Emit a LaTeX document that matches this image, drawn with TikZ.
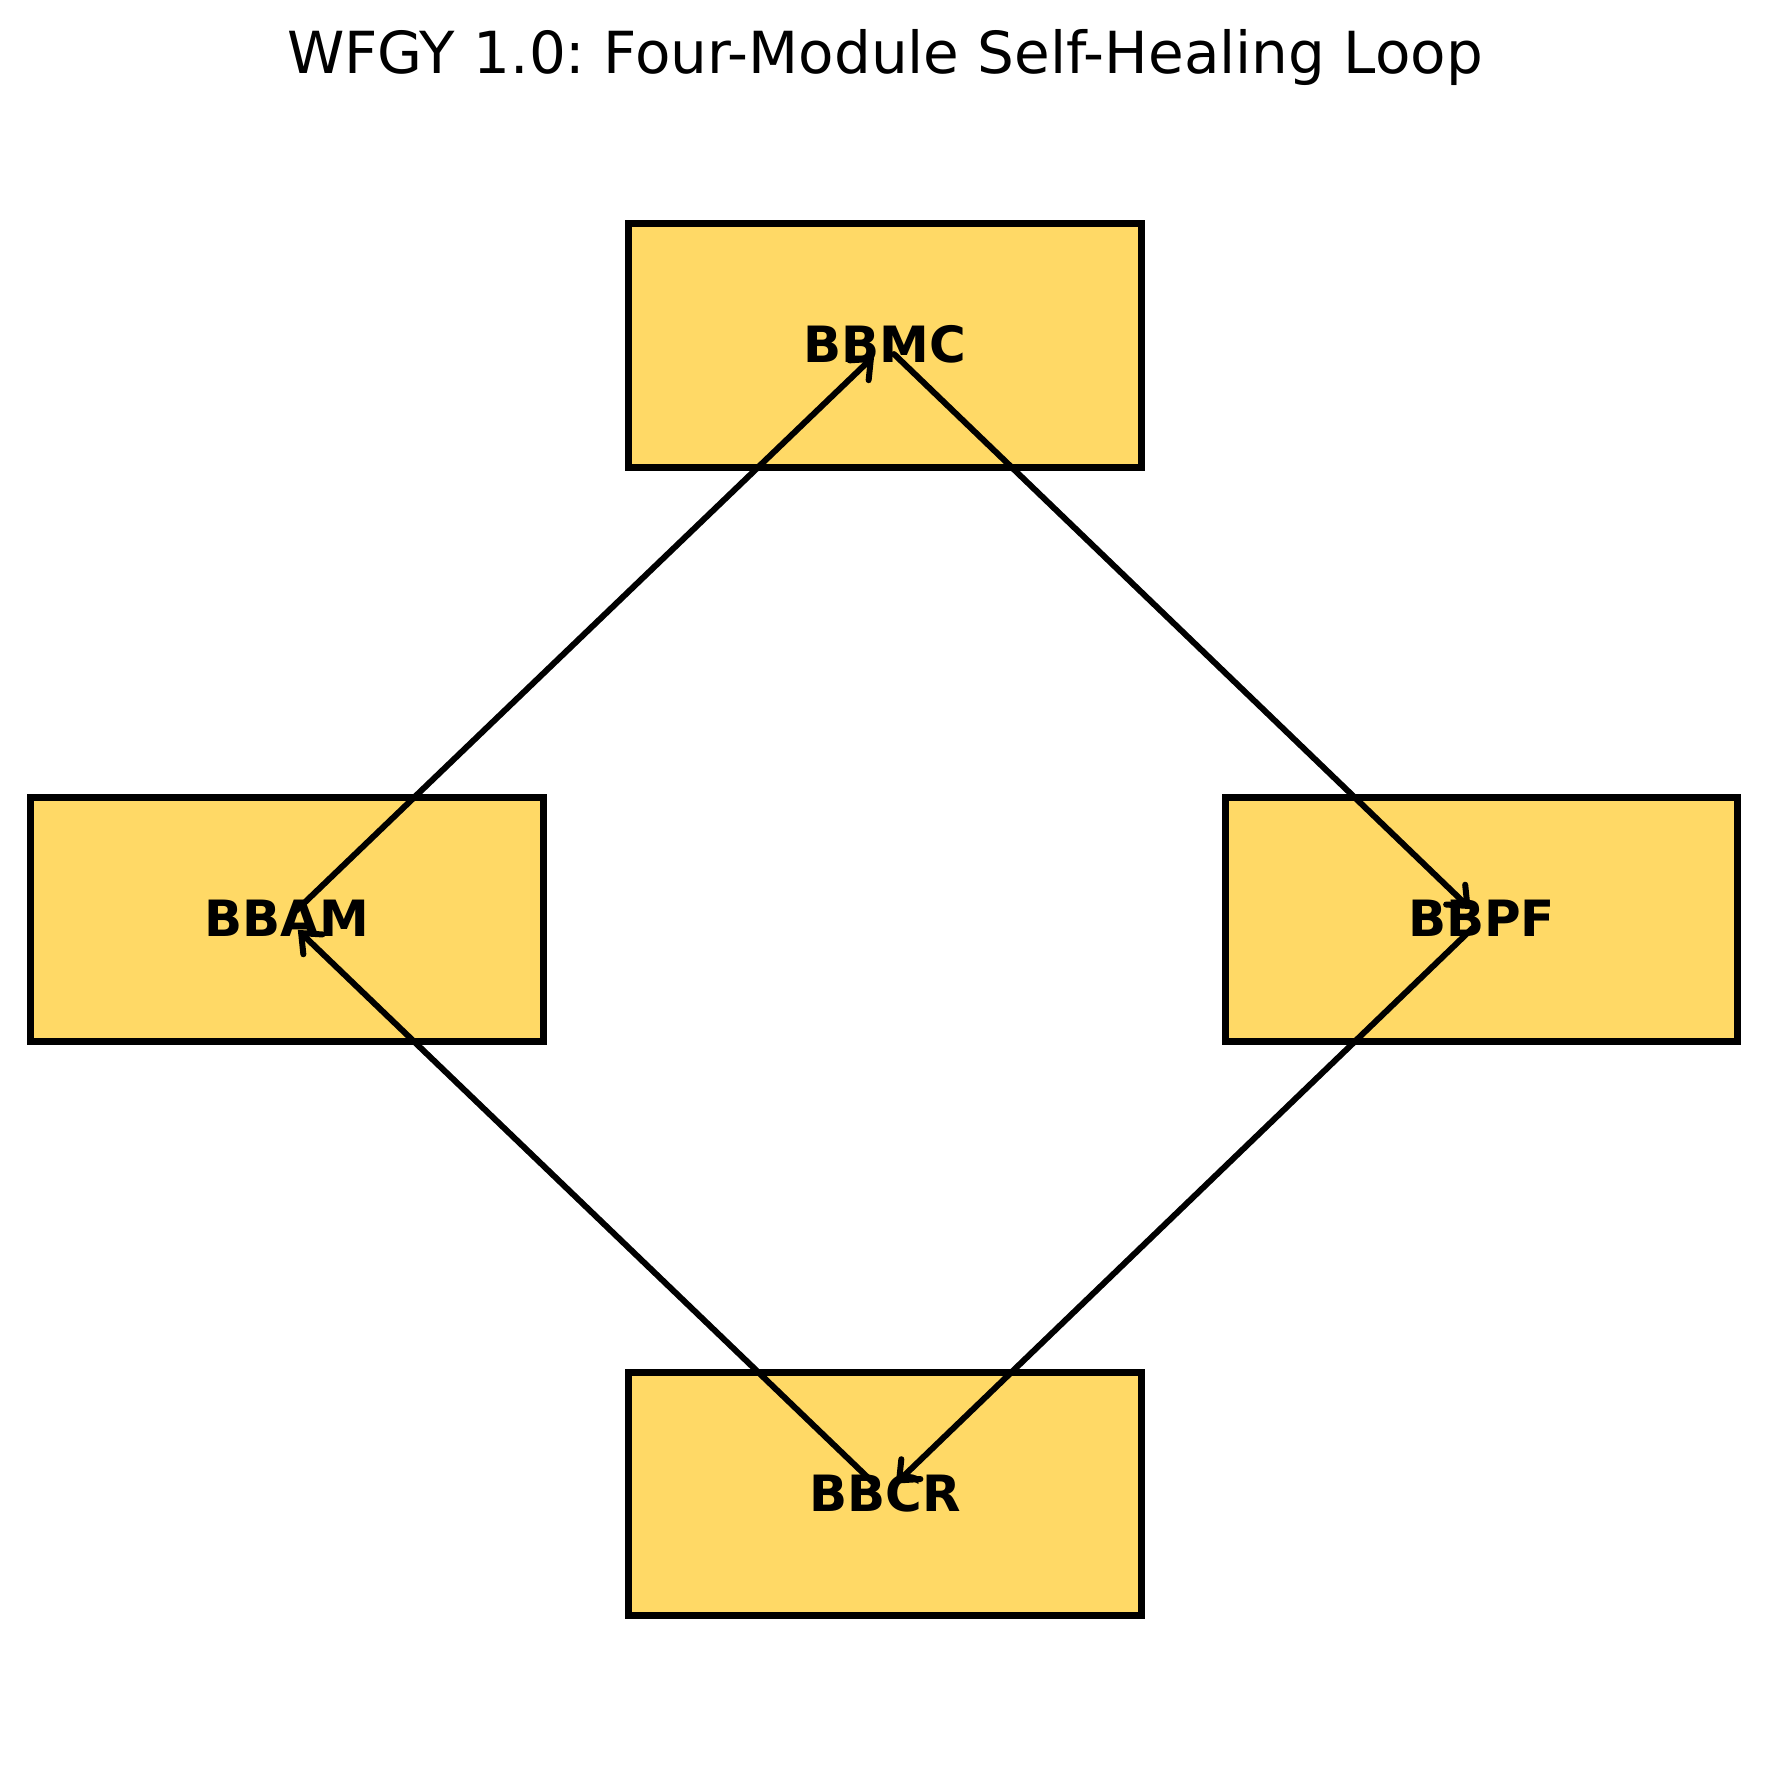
\documentclass[tikz,border=0pt]{standalone}
\usepackage{fontspec}
\setmainfont{DejaVu Sans}
\usetikzlibrary{arrows.meta}
\definecolor{boxfill}{HTML}{FFD966}
\frenchspacing
\tikzset{
  module/.style={draw=black, fill=boxfill, line width=2.8pt, minimum width=205pt, minimum height=97.5pt, inner sep=0pt, font=\fontsize{20}{23}\selectfont\bfseries},
  link/.style={draw=black, line width=2.4pt, line cap=round, -{Straight Barb[length=6.5pt,width=11pt,line cap=round]}, shorten <=5pt, shorten >=6pt}
}
\begin{document}
\begin{tikzpicture}[x=0.4pt,y=-0.4pt]
\useasboundingbox[fill=white] (0,0) rectangle (1770,1770);
\node[font=\fontsize{23.2}{27}\selectfont] (title) at (885,58) {WFGY 1.0: Four-Module Self-Healing Loop};
\node[module] (bbmc) at (885,345.4) {\raisebox{1pt}{BBMC}};
\node[module] (bbam) at (287,919.5) {\raisebox{1pt}{BBAM}};
\node[module] (bbpf) at (1481.5,919.5) {\raisebox{1pt}{BBPF}};
\node[module] (bbcr) at (885,1494) {\raisebox{1pt}{BBCR}};
\draw[link] (bbam.center) -- (bbmc.center);
\draw[link] (bbmc.center) -- (bbpf.center);
\draw[link] (bbpf.center) -- (bbcr.center);
\draw[link] (bbcr.center) -- (bbam.center);
\end{tikzpicture}
\end{document}
